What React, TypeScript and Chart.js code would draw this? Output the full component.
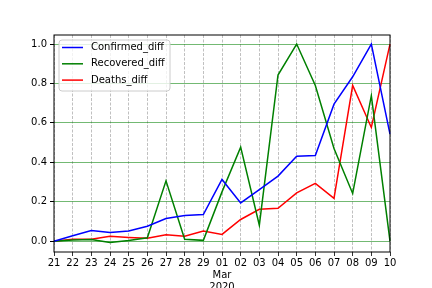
import React, { useEffect, useRef } from "react";
import { Chart, registerables } from "chart.js";

Chart.register(...registerables);

const dayLabels: (string | string[])[] = [
  "21", "22", "23", "24", "25", "26", "27", "28", "29",
  ["01", "Mar", "2020"], "02", "03", "04", "05", "06", "07", "08", "09", "10",
];

const confirmedDiff = [0.0, 0.027, 0.054, 0.044, 0.052, 0.076, 0.115, 0.13, 0.135, 0.313, 0.194, 0.262, 0.33, 0.431, 0.435, 0.695, 0.834, 1.0, 0.543];
const recoveredDiff = [0.0, 0.006, 0.009, -0.007, 0.003, 0.017, 0.306, 0.01, 0.004, 0.25, 0.477, 0.081, 0.843, 1.0, 0.79, 0.47, 0.242, 0.738, 0.0];
const deathsDiff = [0.0, 0.01, 0.01, 0.025, 0.019, 0.015, 0.032, 0.025, 0.051, 0.034, 0.11, 0.162, 0.167, 0.245, 0.293, 0.217, 0.79, 0.577, 1.0];

const seriesNames = ["Confirmed_diff", "Recovered_diff", "Deaths_diff"];
const seriesColors = ["#0000ff", "#008000", "#ff0000"];
const yTicks = [0, 0.2, 0.4, 0.6, 0.8, 1.0];

const FONT = "DejaVu Sans";

const framePlugin = {
  id: "frame",
  afterDraw(chart: any) {
    const { ctx, chartArea: a } = chart;
    ctx.save();
    ctx.strokeStyle = "#000";
    ctx.lineWidth = 1;
    ctx.strokeRect(a.left, a.top, a.right - a.left, a.bottom - a.top);
    // legend
    const x0 = a.left + 5, y0 = a.top + 5, w = 111, h = 51;
    ctx.fillStyle = "rgba(255,255,255,0.8)";
    ctx.strokeStyle = "#cccccc";
    ctx.beginPath();
    const r = 3;
    ctx.moveTo(x0 + r, y0);
    ctx.lineTo(x0 + w - r, y0);
    ctx.quadraticCurveTo(x0 + w, y0, x0 + w, y0 + r);
    ctx.lineTo(x0 + w, y0 + h - r);
    ctx.quadraticCurveTo(x0 + w, y0 + h, x0 + w - r, y0 + h);
    ctx.lineTo(x0 + r, y0 + h);
    ctx.quadraticCurveTo(x0, y0 + h, x0, y0 + h - r);
    ctx.lineTo(x0, y0 + r);
    ctx.quadraticCurveTo(x0, y0, x0 + r, y0);
    ctx.closePath();
    ctx.fill();
    ctx.stroke();
    ctx.font = `10px "${FONT}"`;
    ctx.textBaseline = "middle";
    ctx.textAlign = "left";
    seriesNames.forEach((n, i) => {
      const yy = y0 + 7.5 + i * 16.3;
      ctx.strokeStyle = seriesColors[i];
      ctx.lineWidth = 1.5;
      ctx.beginPath();
      ctx.moveTo(x0 + 3, yy);
      ctx.lineTo(x0 + 24, yy);
      ctx.stroke();
      ctx.fillStyle = "#000";
      ctx.fillText(n, x0 + 32, yy);
    });
    ctx.restore();
  },
};

export default function App() {
  const ref = useRef<HTMLCanvasElement>(null);
  useEffect(() => {
    document.body.style.margin = "0";
    const data = [confirmedDiff, recoveredDiff, deathsDiff];
    const chart = new Chart(ref.current!, {
      type: "line",
      data: {
        labels: dayLabels,
        datasets: seriesNames.map((n, i) => ({
          label: n,
          data: data[i],
          borderColor: seriesColors[i],
          backgroundColor: seriesColors[i],
          borderWidth: 1.5,
          pointRadius: 0,
          tension: 0,
          fill: false,
        })),
      },
      options: {
        animation: false,
        responsive: false,
        maintainAspectRatio: false,
        layout: { padding: { left: 0, top: 35, right: 42, bottom: 0 } },
        plugins: { legend: { display: false }, tooltip: { enabled: false } },
        scales: {
          x: {
            type: "category",
            offset: false,
            border: { display: false, dash: [3, 1.5] },
            grid: {
              color: "#b0b0b0",
              lineWidth: 0.8,
              tickColor: "#000",
              tickLength: 4,
              tickBorderDash: [],
              drawOnChartArea: true,
            },
            ticks: {
              color: "#000",
              font: { family: FONT, size: 10, lineHeight: 1.2 },
              maxRotation: 0,
              autoSkip: false,
              padding: 1,
            },
            afterFit(scale: any) {
              scale.height = 36;
            },
          },
          y: {
            min: -0.055,
            max: 1.046,
            border: { display: false },
            grid: {
              color: "rgba(0,128,0,0.55)",
              lineWidth: 1,
              tickColor: "#000",
              tickLength: 4,
            },
            ticks: {
              color: "#000",
              font: { family: FONT, size: 10 },
              padding: 3,
              callback: (v: any) => Number(v).toFixed(1),
            },
            afterBuildTicks(scale: any) {
              scale.ticks = yTicks.map((v) => ({ value: v }));
            },
            afterFit(scale: any) {
              scale.width = 54;
            },
          },
        },
      },
      plugins: [framePlugin],
    } as any);
    return () => chart.destroy();
  }, []);
  return (
    <div style={{ position: "absolute", left: 0, top: 0, width: 432, height: 288, background: "#fff" }}>
      <canvas ref={ref} width={432} height={288} style={{ width: 432, height: 288 }} />
    </div>
  );
}
